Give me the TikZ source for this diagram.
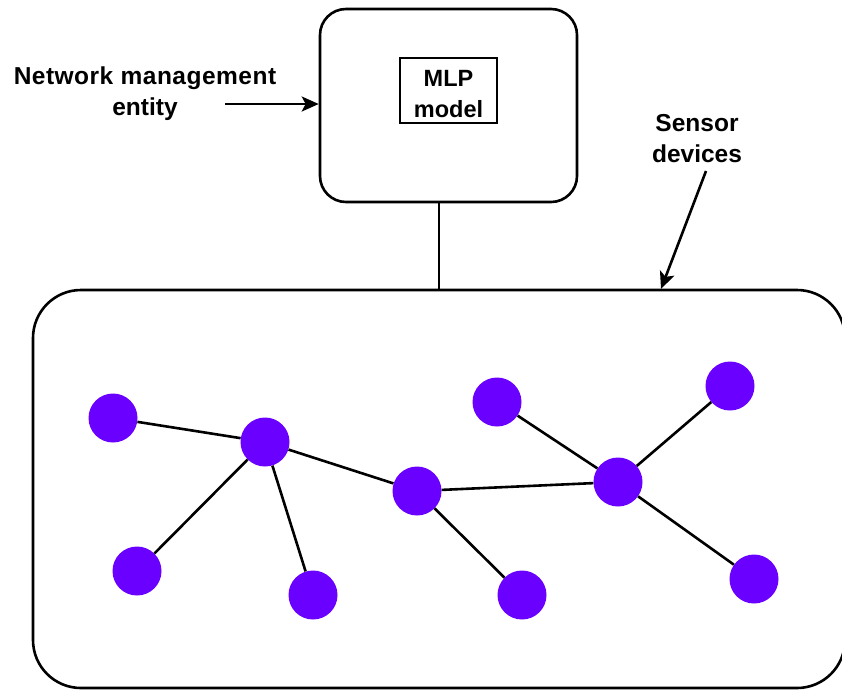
\documentclass[tikz,border=0pt]{standalone}
\usepackage{fontspec}
\setmainfont{Liberation Sans}
\usetikzlibrary{arrows.meta}
\definecolor{devpurple}{HTML}{6A00FF}
\begin{document}
\begin{tikzpicture}[x=1pt,y=-1pt,
  box/.style={draw=black, line width=2.6pt, inner sep=0pt},
  label/.style={font=\bfseries\fontsize{24.5}{31}\selectfont, align=center, inner sep=0pt},
  mlplabel/.style={font=\bfseries\fontsize{23.5}{31}\selectfont, align=center, inner sep=0pt},
  device/.style={circle, fill=devpurple, minimum size=49pt, inner sep=0pt},
  link/.style={line width=2.6pt},
  pointer/.style={line width=2.6pt, -{Stealth[length=17pt,width=15pt,inset=4pt]}}]
\useasboundingbox (0,0) rectangle (842,689);

% management entity with its model
\node[box, rounded corners=26pt, minimum width=257pt, minimum height=193pt] (nme) at (448.5,105.5) {};
\node[box, minimum width=97pt, minimum height=65pt] (mlp) at (448.5,90.5) {};
\node[mlplabel] (mlptext) at (448.5,94) {MLP\\model};

% sensor field
\node[box, rounded corners=48pt, minimum width=812pt, minimum height=398pt] (field) at (439,489) {};

% labels and pointers
\node[label] (nmelabel) at (145,93.5) {\addfontfeature{LetterSpace=2}Network management\\entity};
\node[label] (senslabel) at (697,139) {Sensor\\devices};
\coordinate (netfrom) at (225,104);
\coordinate (sensfrom) at (706,171);
\coordinate (senstip) at (661,289);
\draw[pointer] (netfrom) -- (netfrom -| nme.west);
\draw[pointer] (sensfrom) -- (senstip);
\draw[line width=2pt] ([xshift=-10pt]nme.south) -- ([xshift=-10pt]nme.south |- field.north);

% devices
\node[device] (a) at (113,418) {};
\node[device] (b) at (265,442) {};
\node[device] (c) at (417,491) {};
\node[device] (d) at (497,402) {};
\node[device] (e) at (730,386) {};
\node[device] (f) at (618,482) {};
\node[device] (g) at (137,571) {};
\node[device] (h) at (313,595) {};
\node[device] (i) at (522,595) {};
\node[device] (j) at (754,579) {};

% links between devices
\draw[link] (a) -- (b);
\draw[link] (b) -- (c);
\draw[link] (b) -- (g);
\draw[link] (b) -- (h);
\draw[link] (c) -- (f);
\draw[link] (c) -- (i);
\draw[link] (d) -- (f);
\draw[link] (e) -- (f);
\draw[link] (f) -- (j);
\end{tikzpicture}
\end{document}
